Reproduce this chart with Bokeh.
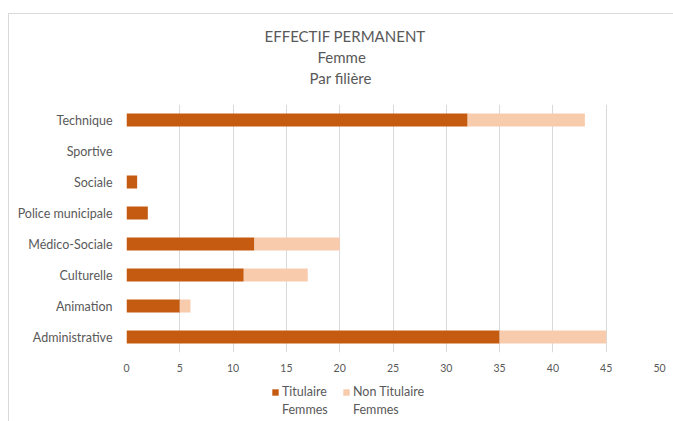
from bokeh.plotting import figure
from bokeh.layouts import column
from bokeh.models import FactorRange, Range1d, Legend, LegendItem, Title, FixedTicker
from bokeh.embed import file_html
from bokeh.resources import INLINE

categories = ["Administrative", "Animation", "Culturelle", "Médico-Sociale",
              "Police municipale", "Sociale", "Sportive", "Technique"]
titulaire = [35, 5, 11, 12, 2, 1, 0, 32]
non_titulaire = [10, 1, 6, 8, 0, 0, 0, 11]
series = ["Titulaire", "Non Titulaire"]
legend_first = ["Titulaire", "Non Titulaire"]
legend_second = ["Femmes", "Femmes"]
x_ticks = [0, 5, 10, 15, 20, 25, 30, 35, 40, 45, 50]
title_lines = ["EFFECTIF PERMANENT", "Femme", "Par filière"]
title_offsets = [138, 191, 183]

colors = ["#C55A11", "#F8CBAD"]
txt = "#595959"
font = "Lato"

p = figure(width=664, height=362, output_backend="svg", toolbar_location=None,
           y_range=FactorRange(factors=categories, range_padding=0),
           x_range=Range1d(0, 50),
           min_border_left=117, min_border_right=14, min_border_top=90,
           min_border_bottom=24, title=None)
p.outline_line_color = None

# spacer between title block and plot area
p.add_layout(Title(text=" ", text_font_size="1px", standoff=14), "above")
for i in [2, 1, 0]:
    p.add_layout(Title(text=title_lines[i], align="left", offset=title_offsets[i],
                       text_font=font, text_font_size="15px", text_font_style="normal",
                       text_color=txt, standoff=1), "above")

data = {"cat": categories, "Titulaire": titulaire, "Non Titulaire": non_titulaire}
rs = p.hbar_stack(series, y="cat", height=0.42, color=colors, source=data,
                  line_color=None)

p.xaxis.ticker = FixedTicker(ticks=x_ticks)
p.xaxis.axis_line_color = None
p.xaxis.major_tick_line_color = None
p.xaxis.minor_tick_line_color = None
p.xaxis.major_label_text_font = font
p.xaxis.major_label_text_font_size = "10.5px"
p.xaxis.major_label_text_color = txt
p.xaxis.major_label_standoff = 5

p.yaxis.axis_line_color = None
p.yaxis.major_tick_line_color = None
p.yaxis.minor_tick_line_color = None
p.yaxis.major_label_text_font = font
p.yaxis.major_label_text_font_size = "12.5px"
p.yaxis.major_label_text_color = txt
p.yaxis.major_label_standoff = 8

p.xgrid.grid_line_color = "#d9d9d9"
p.ygrid.grid_line_color = None

# legend strip: zero-width proxy bars carry the legend swatches
p2 = figure(width=664, height=45, output_backend="svg", toolbar_location=None,
            x_range=Range1d(0, 1), y_range=Range1d(0, 1),
            min_border_left=0, min_border_right=0, min_border_top=0,
            min_border_bottom=0, title=None)
p2.axis.visible = False
p2.grid.visible = False
p2.outline_line_color = None
swatch = [p2.hbar(y=[0.5], left=[0], right=[0], height=0.5, color=colors[i],
                  line_color=None) for i in range(2)]
blank = [p2.hbar(y=[0.5], left=[0], right=[0], height=0.5, fill_alpha=0,
                 line_alpha=0) for i in range(2)]

items = [LegendItem(label=legend_first[i], renderers=[swatch[i]]) for i in range(2)] + \
        [LegendItem(label=legend_second[i], renderers=[blank[i]]) for i in range(2)]
legend = Legend(items=items, orientation="horizontal", ncols=2,
                location=(145, 4),
                padding=0, margin=0, spacing=3, border_line_color=None,
                background_fill_alpha=0, glyph_width=8, glyph_height=8,
                label_standoff=3, label_width=57, label_height=14,
                label_text_font=font, label_text_font_size="12.5px",
                label_text_color=txt)
p2.add_layout(legend, "center")

layout = column(p, p2, spacing=0)
layout.styles = {"border-top": "1px solid #d9d9d9", "border-left": "1px solid #d9d9d9",
                 "margin-left": "8px", "margin-top": "13px"}

open("out.html", "w").write(file_html(layout, INLINE))
